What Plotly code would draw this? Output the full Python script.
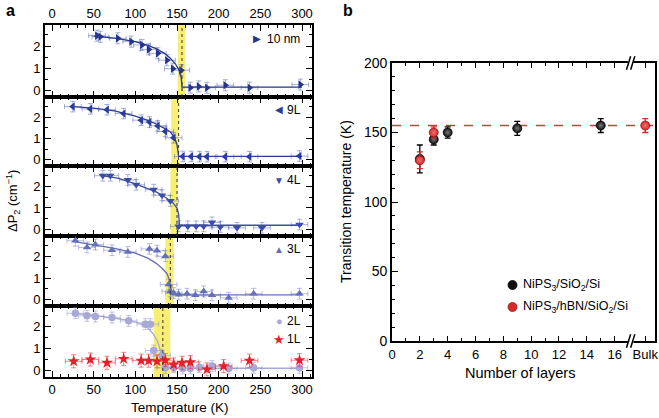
import plotly.graph_objects as go

# ---------------- panel a data ----------------
t_10nm = [54, 58, 79, 95, 108, 116, 127, 138, 145, 155, 166, 176, 186, 208, 237, 298]
p_10nm = [2.47, 2.42, 2.35, 2.2, 2.05, 1.85, 1.67, 1.36, 0.98, 0.91, 0.12, 0.18, 0.12, 0.23, 0.12, 0.26]
fit_t_10nm = [50, 75, 100, 115, 125, 135, 142, 148, 152, 155, 156, 300]
fit_p_10nm = [2.45, 2.36, 2.2, 2.03, 1.88, 1.67, 1.45, 1.2, 0.95, 0.6, 0.15, 0.15]

t_9L = [25, 46, 66, 86, 107, 117, 127, 136, 146, 157, 167, 177, 186, 208, 237, 297]
p_9L = [2.5, 2.39, 2.35, 2.17, 1.86, 1.77, 1.59, 1.33, 1.03, 0.15, 0.15, 0.14, 0.14, 0.14, 0.14, 0.17]
fit_t_9L = [25, 50, 75, 100, 115, 125, 135, 142, 147, 150, 152, 300]
fit_p_9L = [2.5, 2.43, 2.3, 2.05, 1.85, 1.68, 1.47, 1.3, 1.05, 0.7, 0.15, 0.15]

t_4L = [61, 70, 91, 101, 122, 132, 142, 152, 163, 173, 182, 192, 202, 222, 252, 297]
p_4L = [2.5, 2.5, 2.3, 2.08, 1.85, 1.59, 1.33, 0.15, 0.15, 0.15, 0.15, 0.33, 0.12, 0.08, 0.08, 0.23]
fit_t_4L = [60, 80, 100, 115, 125, 135, 145, 150, 152, 153, 300]
fit_p_4L = [2.5, 2.38, 2.12, 1.92, 1.75, 1.52, 1.25, 1.0, 0.7, 0.2, 0.2]

t_3L = [28, 42, 52, 72, 91, 117, 126, 136, 140, 142, 146, 152, 162, 172, 182, 192, 212, 242, 297]
p_3L = [2.73, 2.42, 2.55, 2.29, 2.21, 2.35, 2.27, 2.01, 0.7, 0.38, 0.3, 0.23, 0.27, 0.2, 0.38, 0.2, 0.08, 0.27, 0.27]
fit_t_3L = [25, 50, 75, 100, 115, 125, 133, 138, 141, 143, 144, 300]
fit_p_3L = [2.7, 2.55, 2.38, 2.15, 1.92, 1.68, 1.42, 1.2, 0.9, 0.5, 0.22, 0.22]

t_2L = [28, 42, 52, 72, 92, 112, 118, 122, 132, 136, 146, 157, 166, 177, 192, 212, 242, 297]
p_2L = [2.62, 2.5, 2.47, 2.42, 2.27, 2.12, 2.12, 0.91, 0.68, 0.12, 0.15, 0.09, 0.09, 0.15, 0.2, 0.09, 0.12, 0.12]
fit_t_2L = [25, 50, 70, 90, 105, 115, 122, 127, 131, 133, 134, 300]
fit_p_2L = [2.6, 2.53, 2.42, 2.3, 2.17, 1.95, 1.64, 1.3, 0.8, 0.5, 0.1, 0.1]

t_1L = [26, 46, 66, 86, 107, 116, 126, 136, 146, 156, 166, 186, 206, 237, 297]
p_1L = [0.42, 0.5, 0.35, 0.53, 0.45, 0.45, 0.42, 0.47, 0.27, 0.35, 0.38, 0.05, 0.2, 0.45, 0.47]

band_lo = [151, 143, 142, 136, 122]
band_hi = [160, 152, 151, 146, 142]
tc_dot = [156, 152, 150, 142, 133]

# ---------------- panel b data ----------------
layers_sio2 = [2, 3, 4, 9, 15]
tc_sio2 = [131, 145, 150, 153, 155]
err_sio2 = [10, 4, 4, 5, 5]
layers_hbn = [2, 3, 18.2]   # 18.2 = "Bulk" slot beyond the axis break
tc_hbn = [130, 150, 155]
err_hbn = [6, 4, 5]
tc_bulk = 155
x_ticks_b = [0, 2, 4, 6, 8, 10, 12, 14, 16, 18.2]
x_ticklabels_b = ["0", "2", "4", "6", "8", "10", "12", "14", "16", "Bulk"]

FONT = "Liberation Sans, Arial, sans-serif"
W, H = 659, 418

fig = go.Figure()

panels = [
    (t_10nm, p_10nm, fit_t_10nm, fit_p_10nm, "#25348c", "rgba(60,80,170,0.45)", "triangle-right"),
    (t_9L, p_9L, fit_t_9L, fit_p_9L, "#2c3c99", "rgba(60,80,170,0.45)", "triangle-left"),
    (t_4L, p_4L, fit_t_4L, fit_p_4L, "#3d4ca6", "rgba(70,90,175,0.45)", "triangle-down"),
    (t_3L, p_3L, fit_t_3L, fit_p_3L, "#6670b8", "rgba(100,110,190,0.45)", "triangle-up"),
    (t_2L, p_2L, fit_t_2L, fit_p_2L, "#a9a9d8", "rgba(150,150,210,0.55)", "circle"),
]

ydoms = [(0.7679, 0.9402), (0.6029, 0.7679), (0.4354, 0.6029), (0.2679, 0.4354), (0.0981, 0.2679)]
xdom_a = (45 / W, 312 / W)

for i, (tt, pp, ft, fp, col, ecol, sym) in enumerate(panels, start=1):
    xa = "x" if i == 1 else f"x{i}"
    ya = "y" if i == 1 else f"y{i}"
    fig.add_trace(go.Scatter(x=ft, y=fp, mode="lines", line=dict(color=col, width=1.3),
                             xaxis=xa, yaxis=ya, showlegend=False, hoverinfo="skip"))
    fig.add_trace(go.Scatter(
        x=tt, y=pp, mode="markers", xaxis=xa, yaxis=ya, showlegend=False,
        marker=dict(symbol=sym, size=7.5, color=col),
        error_x=dict(type="constant", value=10, color=ecol, thickness=1, width=2.5),
        error_y=dict(type="constant", value=0.25, color=ecol, thickness=1, width=2.5)))
    if i == 5:
        fig.add_trace(go.Scatter(
            x=t_1L, y=p_1L, mode="markers", xaxis=xa, yaxis=ya, showlegend=False,
            marker=dict(symbol="star", size=9, color="#e5202a"),
            error_x=dict(type="constant", value=10, color="rgba(230,40,50,0.55)", thickness=1, width=2.5),
            error_y=dict(type="constant", value=0.3, color="rgba(230,40,50,0.55)", thickness=1, width=2.5)))
    # yellow band and dotted Tc line
    fig.add_shape(type="rect", xref=xa, yref=f"{ya} domain", x0=band_lo[i - 1], x1=band_hi[i - 1],
                  y0=0, y1=1, fillcolor="#f6ec5c", opacity=0.85, line=dict(width=0), layer="below")
    fig.add_shape(type="line", xref=xa, yref=f"{ya} domain", x0=tc_dot[i - 1], x1=tc_dot[i - 1],
                  y0=0, y1=1, line=dict(color="#333", width=1, dash="dot"))

    xkey = "xaxis" if i == 1 else f"xaxis{i}"
    ykey = "yaxis" if i == 1 else f"yaxis{i}"
    fig.update_layout(**{
        xkey: dict(domain=list(xdom_a), range=[-8.4, 312], anchor=ya,
                   tickvals=[0, 50, 100, 150, 200, 250, 300],
                   ticks="inside", ticklen=6, tickwidth=1.2, tickcolor="black",
                   minor=dict(tickvals=[v for v in range(0, 311, 10) if v % 50], ticks="inside",
                              ticklen=3.5, tickwidth=1, tickcolor="black"),
                   showline=True, linewidth=1.6, linecolor="black", mirror="ticks",
                   showgrid=False, zeroline=False,
                   showticklabels=(i in (1, 5)), side="top" if i == 1 else "bottom",
                   tickfont=dict(family=FONT, size=13, color="black")),
        ykey: dict(domain=list(ydoms[i - 1]), range=[-0.3, 2.95], anchor=xa,
                   tickvals=[0, 1, 2], ticks="inside", ticklen=6, tickwidth=1.2, tickcolor="black",
                   minor=dict(tickvals=[0.5, 1.5, 2.5], ticks="inside", ticklen=3.5, tickwidth=1,
                              tickcolor="black"),
                   showline=True, linewidth=1.6, linecolor="black", mirror="ticks",
                   showgrid=False, zeroline=False,
                   tickfont=dict(family=FONT, size=13, color="black")),
    })

# ---------------- panel b ----------------
fig.add_trace(go.Scatter(
    x=layers_sio2, y=tc_sio2, mode="markers", xaxis="x6", yaxis="y6", showlegend=False,
    marker=dict(size=9, color="#111", line=dict(color="#000", width=0.8),
                gradient=dict(type="radial", color="#777")),
    error_y=dict(type="data", array=err_sio2, color="black", thickness=1.3, width=3)))
fig.add_trace(go.Scatter(
    x=layers_hbn, y=tc_hbn, mode="markers", xaxis="x6", yaxis="y6", showlegend=False,
    marker=dict(size=9, color="#d42a2a", line=dict(color="#a01515", width=0.8),
                gradient=dict(type="radial", color="#f07070")),
    error_y=dict(type="data", array=err_hbn, color="#d42a2a", thickness=1.3, width=3)))

fig.add_shape(type="line", xref="x6 domain", yref="y6", x0=0, x1=1, y0=tc_bulk, y1=tc_bulk,
              line=dict(color="#d8393f", width=1.6, dash="dash"), layer="below")

fig.update_layout(
    xaxis6=dict(domain=[392 / W, 655 / W], range=[0, 18.9], anchor="y6",
                tickvals=x_ticks_b, ticktext=x_ticklabels_b,
                ticks="inside", ticklen=5, tickwidth=1.3, tickcolor="black",
                minor=dict(tickvals=[1, 3, 5, 7, 9, 11, 13, 15], ticks="inside", ticklen=3,
                           tickwidth=1.2, tickcolor="black"),
                showline=True, linewidth=1.8, linecolor="black", mirror="ticks",
                showgrid=False, zeroline=False,
                tickfont=dict(family=FONT, size=13, color="black")),
    yaxis6=dict(domain=[1 - 341 / H, 1 - 63 / H], range=[0, 200], anchor="x6",
                tickvals=[0, 50, 100, 150, 200], ticks="inside", ticklen=6, tickwidth=1.3,
                tickcolor="black",
                minor=dict(dtick=10, ticks="inside", ticklen=3.5, tickwidth=1.2, tickcolor="black"),
                showline=True, linewidth=1.8, linecolor="black", mirror=True,
                showgrid=False, zeroline=False,
                tickfont=dict(family=FONT, size=14, color="black")),
)

# axis break marks (//) on panel b
yb, yt = 1 - 341 / H, 1 - 63 / H
for yy in (yb, yt):
    fig.add_shape(type="rect", xref="x6", yref="paper", x0=16.95, x1=17.35, y0=yy - 0.006, y1=yy + 0.006,
                  fillcolor="white", line=dict(width=0))
    for dx in (0.0, 0.3):
        fig.add_shape(type="line", xref="x6", yref="paper", x0=16.85 + dx, x1=17.15 + dx,
                      y0=yy - 0.016, y1=yy + 0.016, line=dict(color="black", width=1.5))

annotations = [
    dict(text="<b>a</b>", x=4 / W, y=1 - 10 / H, font=dict(size=16)),
    dict(text="<b>b</b>", x=341 / W, y=1 - 10 / H, font=dict(size=16)),
    dict(text="ΔP<sub>2</sub> (cm<sup>−1</sup>)", x=13 / W, y=1 - 201 / H, textangle=-90,
         xanchor="center", font=dict(size=13)),
    dict(text="Temperature (K)", x=180 / W, y=1 - 407 / H, xanchor="center", font=dict(size=13.5)),
    dict(text="Transition temperature (K)", x=346 / W, y=1 - 202 / H, textangle=-90,
         xanchor="center", font=dict(size=14)),
    dict(text="Number of layers", x=520 / W, y=1 - 373 / H, xanchor="center", font=dict(size=14.5)),
    # panel a legends
    dict(text="▶", x=257 / W, y=1 - 39 / H, xanchor="center", font=dict(size=10, color="#25348c")),
    dict(text="10 nm", x=265 / W, y=1 - 39 / H, font=dict(size=12)),
    dict(text="◀", x=279 / W, y=1 - 110 / H, xanchor="center", font=dict(size=10, color="#2c3c99")),
    dict(text="9L", x=285 / W, y=1 - 110 / H, font=dict(size=12)),
    dict(text="▼", x=279 / W, y=1 - 180 / H, xanchor="center", font=dict(size=10, color="#3d4ca6")),
    dict(text="4L", x=285 / W, y=1 - 180 / H, font=dict(size=12)),
    dict(text="▲", x=279 / W, y=1 - 249 / H, xanchor="center", font=dict(size=10, color="#6670b8")),
    dict(text="3L", x=285 / W, y=1 - 249 / H, font=dict(size=12)),
    dict(text="●", x=279 / W, y=1 - 321 / H, xanchor="center", font=dict(size=11, color="#a9a9d8")),
    dict(text="2L", x=285 / W, y=1 - 321 / H, font=dict(size=12)),
    dict(text="★", x=279 / W, y=1 - 339 / H, xanchor="center", font=dict(size=13, color="#e5202a")),
    dict(text="1L", x=285 / W, y=1 - 339 / H, font=dict(size=12)),
    # panel b legend
    dict(text="NiPS<sub>3</sub>/SiO<sub>2</sub>/Si", x=521 / W, y=1 - 285 / H, font=dict(size=12.5)),
    dict(text="NiPS<sub>3</sub>/hBN/SiO<sub>2</sub>/Si", x=521 / W, y=1 - 307 / H, font=dict(size=12.5)),
]
for a in annotations:
    a.setdefault("xref", "paper")
    a.setdefault("yref", "paper")
    a.setdefault("xanchor", "left")
    a.setdefault("yanchor", "middle")
    a.setdefault("showarrow", False)
    f = a.setdefault("font", {})
    f.setdefault("family", FONT)
    f.setdefault("color", "black")
fig.update_layout(annotations=annotations)

# legend marker circles for panel b
for yy, fc, lc in ((285, "#111", "#000"), (307, "#d42a2a", "#a01515")):
    fig.add_shape(type="circle", xref="paper", yref="paper",
                  x0=508 / W, x1=517 / W, y0=1 - (yy + 4.5) / H, y1=1 - (yy - 4.5) / H,
                  fillcolor=fc, line=dict(color=lc, width=0.8))

fig.update_layout(width=W, height=H, margin=dict(l=0, r=0, t=0, b=0),
                  paper_bgcolor="white", plot_bgcolor="white", template="none",
                  font=dict(family=FONT, color="black"))

fig.write_html("out.html", config={"displayModeBar": False},
               post_script="document.body.style.margin='0';document.body.style.overflow='hidden';")
